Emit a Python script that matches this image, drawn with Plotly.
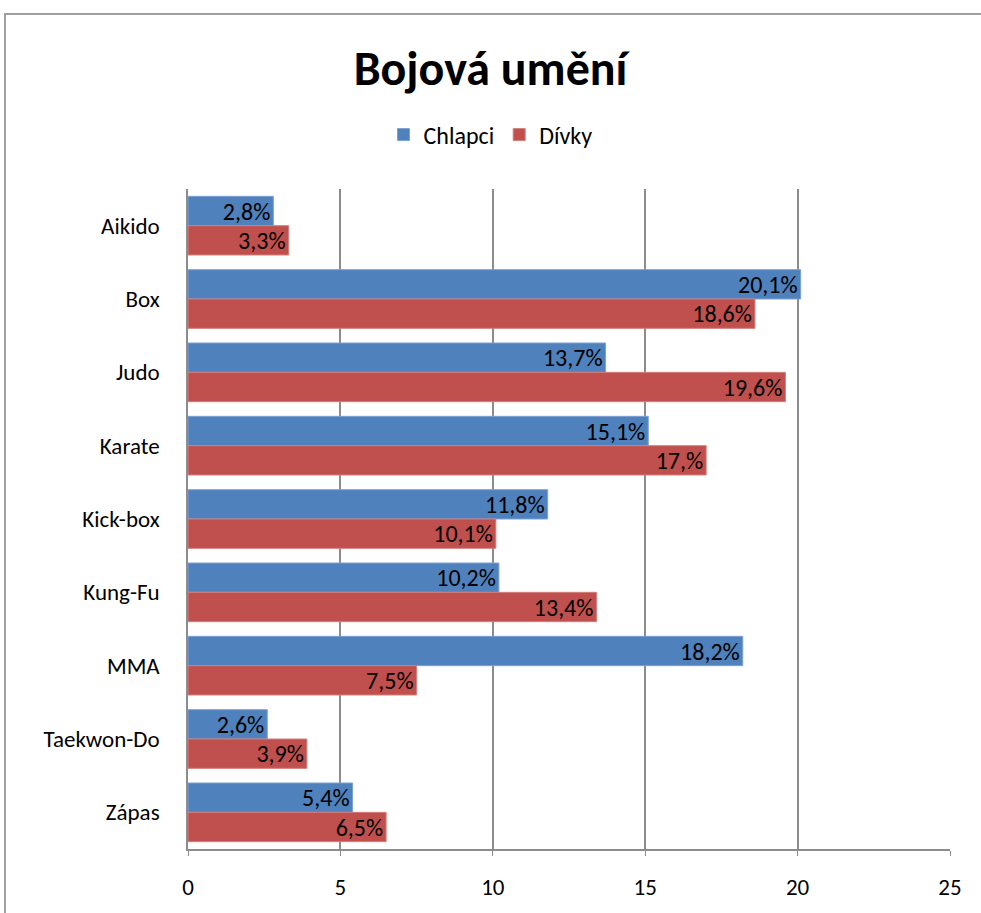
import plotly.graph_objects as go

categories = ["Aikido", "Box", "Judo", "Karate", "Kick-box", "Kung-Fu", "MMA", "Taekwon-Do", "Zápas"]
chlapci = [2.8, 20.1, 13.7, 15.1, 11.8, 10.2, 18.2, 2.6, 5.4]
divky = [3.3, 18.6, 19.6, 17.0, 10.1, 13.4, 7.5, 3.9, 6.5]
chlapci_labels = ["2,8%", "20,1%", "13,7%", "15,1%", "11,8%", "10,2%", "18,2%", "2,6%", "5,4%"]
divky_labels = ["3,3%", "18,6%", "19,6%", "17,%", "10,1%", "13,4%", "7,5%", "3,9%", "6,5%"]
x_ticks = [0, 5, 10, 15, 20, 25]

FONT = "Calibri, Carlito, Lato, sans-serif"

fig = go.Figure()
fig.add_trace(go.Bar(
    y=categories, x=chlapci, name="Chlapci", orientation="h",
    text=chlapci_labels, textposition="inside", insidetextanchor="end",
    textangle=0, constraintext="none",
    textfont=dict(color="#000000", size=24, family=FONT),
    marker=dict(color="#4F81BD", line=dict(color="#7DA1D4", width=1)),
))
fig.add_trace(go.Bar(
    y=categories, x=divky, name="Dívky", orientation="h",
    text=divky_labels, textposition="inside", insidetextanchor="end",
    textangle=0, constraintext="none",
    textfont=dict(color="#000000", size=24, family=FONT),
    marker=dict(color="#C0504D", line=dict(color="#D37E7B", width=1)),
))

fig.update_layout(
    width=981, height=913,
    barmode="group", bargap=0.2, bargroupgap=0,
    paper_bgcolor="white", plot_bgcolor="white",
    font=dict(family=FONT, color="#000000"),
    margin=dict(l=188, r=31, t=189, b=60),
    title=dict(text="<b>Bojová umění</b>", x=0.5, xanchor="center",
               xref="container",
               y=1 - 68 / 913, yanchor="middle",
               font=dict(size=48, family=FONT, color="#000000")),
    legend=dict(orientation="h", x=0.5, xanchor="center", xref="container",
                y=1 - 135 / 913, yref="container", yanchor="middle",
                font=dict(size=24, family=FONT), itemwidth=30,
                traceorder="normal"),
    xaxis=dict(range=[0, 25], tickvals=x_ticks, showgrid=True,
               gridcolor="#8C8C8C", gridwidth=1.5, showline=True,
               linecolor="#8C8C8C", linewidth=1.5, ticks="outside",
               ticklen=5, tickcolor="#8C8C8C", tickfont=dict(size=23),
               ticklabelstandoff=12,
               zeroline=False, fixedrange=True),
    yaxis=dict(autorange="reversed", showline=True, linecolor="#8C8C8C",
               linewidth=1.5, ticks="", tickfont=dict(size=23),
               ticklabelstandoff=22, showgrid=False),
    shapes=[dict(type="rect", xref="paper", yref="paper",
                 x0=-183 / 762, x1=1.2, y0=-0.2, y1=1 + 176 / 664,
                 line=dict(color="#A0A0A0", width=2), layer="below")],
)

fig.write_html("out.html", config={"displayModeBar": False},
               post_script="document.body.style.margin='0';")
